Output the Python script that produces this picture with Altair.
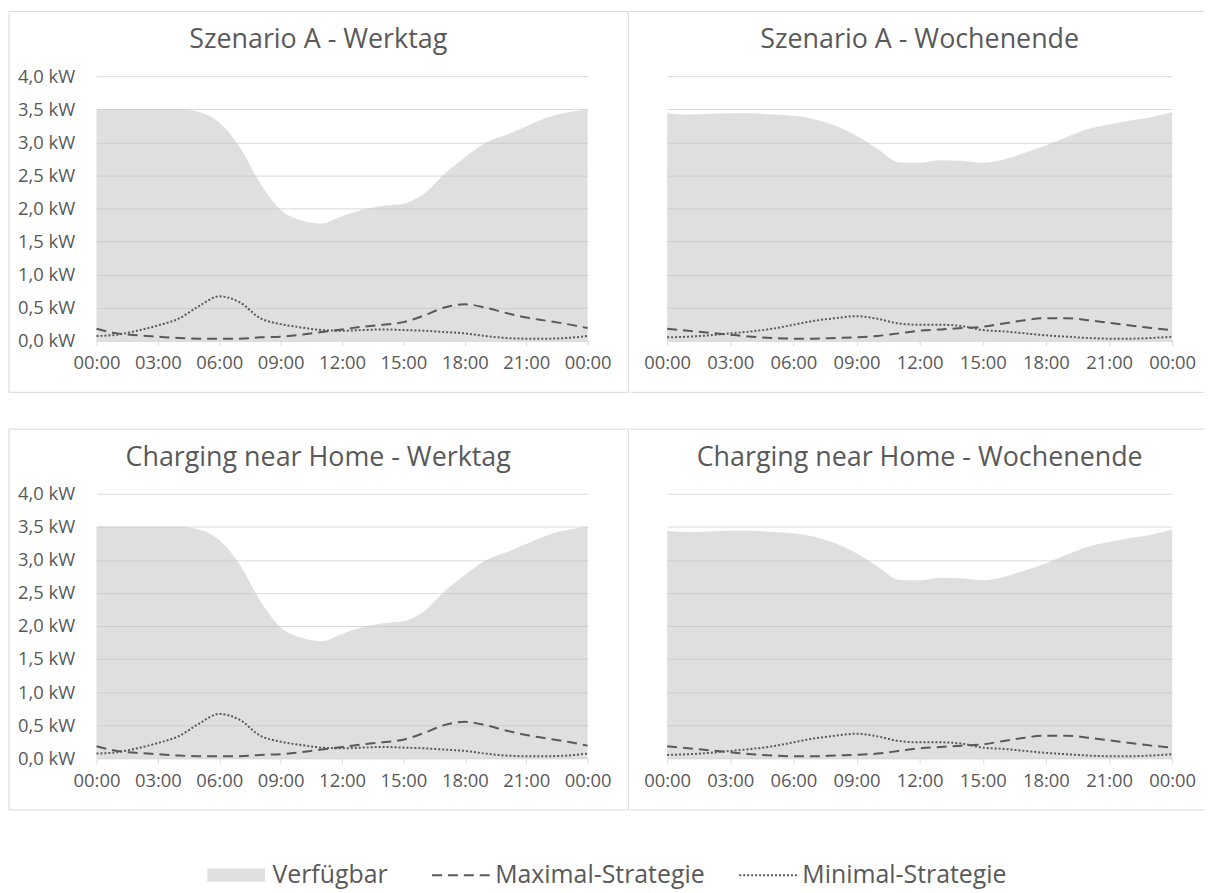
import json
import altair as alt
import pandas as pd

# ---------------- data ----------------
hours = list(range(25))

# Werktag (weekday)
werktag_verfuegbar = [3.50, 3.50, 3.50, 3.50, 3.50, 3.46, 3.30, 2.93, 2.38, 1.98, 1.82, 1.77, 1.88,
                      1.98, 2.04, 2.07, 2.22, 2.52, 2.77, 2.99, 3.11, 3.24, 3.37, 3.45, 3.50]
werktag_maximal = [0.18, 0.11, 0.08, 0.06, 0.04, 0.03, 0.03, 0.03, 0.05, 0.06, 0.09, 0.13, 0.17,
                   0.21, 0.24, 0.28, 0.38, 0.50, 0.55, 0.50, 0.42, 0.35, 0.30, 0.25, 0.19]
werktag_minimal = [0.07, 0.09, 0.15, 0.23, 0.33, 0.52, 0.67, 0.58, 0.34, 0.25, 0.20, 0.16, 0.15,
                   0.16, 0.17, 0.16, 0.15, 0.13, 0.11, 0.07, 0.04, 0.03, 0.03, 0.04, 0.07]

# Wochenende (weekend)
wochenende_verfuegbar = [3.44, 3.42, 3.43, 3.44, 3.44, 3.42, 3.40, 3.35, 3.25, 3.10, 2.90, 2.70, 2.69,
                         2.73, 2.72, 2.69, 2.74, 2.84, 2.95, 3.08, 3.20, 3.27, 3.33, 3.38, 3.46]
wochenende_maximal = [0.18, 0.15, 0.12, 0.09, 0.06, 0.04, 0.03, 0.03, 0.04, 0.05, 0.07, 0.11, 0.15,
                      0.17, 0.19, 0.21, 0.26, 0.31, 0.34, 0.34, 0.31, 0.27, 0.23, 0.19, 0.16]
wochenende_minimal = [0.05, 0.06, 0.08, 0.11, 0.14, 0.18, 0.24, 0.30, 0.34, 0.37, 0.33, 0.26, 0.24,
                      0.24, 0.22, 0.16, 0.14, 0.11, 0.08, 0.06, 0.04, 0.03, 0.03, 0.04, 0.06]

panel_titles = ["Szenario A - Werktag", "Szenario A - Wochenende",
                "Charging near Home - Werktag", "Charging near Home  - Wochenende"]
series_names = ["Verfügbar", "Maximal-Strategie", "Minimal-Strategie"]

x_tick_values = [0, 3, 6, 9, 12, 15, 18, 21, 24]
x_tick_labels = ["00:00", "03:00", "06:00", "09:00", "12:00", "15:00", "18:00", "21:00", "00:00"]
y_tick_values = [0, 0.5, 1.0, 1.5, 2.0, 2.5, 3.0, 3.5, 4.0]
y_tick_labels = ["0,0 kW", "0,5 kW", "1,0 kW", "1,5 kW", "2,0 kW", "2,5 kW", "3,0 kW", "3,5 kW", "4,0 kW"]

# ---------------- style ----------------
FONT = "Open Sans"
TEXT = "#595959"
GRID = "#d9d9d9"
LINE = "#595959"
H = 266

x_label_expr = f"{json.dumps(x_tick_labels)}[round(datum.value / 3)]"
y_label_expr = f"{json.dumps(y_tick_labels)}[round(datum.value * 2)]"

fill_legend = alt.Legend(orient="none", legendX=128, legendY=791, direction="horizontal", title=None,
                         symbolType="M-4,-0.92H4V0.92H-4Z", symbolSize=210, symbolStrokeWidth=0,
                         symbolOpacity=0.5, labelOffset=24, labelFontSize=25, labelLimit=400,
                         labelFont=FONT, labelColor=TEXT, padding=0)
dash_legend = alt.Legend(orient="none", legendX=354, legendY=791, direction="horizontal", title=None,
                         symbolType="M-4,0H4", symbolSize=210, symbolStrokeColor=LINE,
                         symbolStrokeWidth=2, labelOffset=22, columnPadding=30, labelFontSize=25,
                         labelLimit=400, labelFont=FONT, labelColor=TEXT, padding=0)


def panel(title, avail, maxi, mini, left):
    w = 494 if left else 508
    df = pd.DataFrame({"Stunde": hours, series_names[0]: avail,
                       series_names[1]: maxi, series_names[2]: mini})
    x = alt.X("Stunde:Q", scale=alt.Scale(domain=[0, 24], nice=False, zero=False),
              axis=alt.Axis(values=x_tick_values, labelExpr=x_label_expr, title=None, grid=False,
                            domainColor=GRID, tickColor=GRID, tickSize=5, labelPadding=8,
                            labelFontSize=18.5, labelColor=TEXT, labelFont=FONT, labelFlush=False,
                            labelOverlap=False, zindex=1))
    yscale = alt.Scale(domain=[0, 4], nice=False)
    yaxis = alt.Axis(values=y_tick_values, labelExpr=y_label_expr, title=None, grid=True,
                     gridColor=GRID, domain=False, ticks=False, labels=left, labelPadding=22,
                     labelFontSize=18.5, labelColor=TEXT, labelFont=FONT, labelOverlap=False)
    base = alt.Chart(df)
    area = base.transform_fold([series_names[0]], as_=["Reihe", "Wert"]).mark_area(
        interpolate="monotone", opacity=0.5).encode(
        x=x, y=alt.Y("Wert:Q", scale=yscale, axis=yaxis),
        fill=alt.Fill("Reihe:N", scale=alt.Scale(domain=[series_names[0]], range=["#bfbfbf"]),
                      legend=fill_legend))
    lines = base.transform_fold(series_names[1:], as_=["Reihe", "Wert"]).mark_line(
        interpolate="monotone", color=LINE, strokeWidth=2).encode(
        x=x, y=alt.Y("Wert:Q", scale=yscale, axis=yaxis),
        strokeDash=alt.StrokeDash("Reihe:N", scale=alt.Scale(domain=series_names[1:],
                                                             range=[[10, 6], [2, 2]]),
                                  legend=dash_legend))
    tdf = pd.DataFrame({"Titel": [title]})
    title_mark = alt.Chart(tdf).mark_text(font=FONT, fontSize=27, color=TEXT, align="center",
                                          baseline="alphabetic").encode(
        text="Titel:N", x=alt.value(w / 2 - (24 if left else 0)), y=alt.value(-28))
    if left:
        frame = [alt.Chart(tdf).mark_rect(fillOpacity=0, stroke=GRID, strokeWidth=1).encode(
            x=alt.value(-88), x2=alt.value(w + 41), y=alt.value(-65), y2=alt.value(H + 52))]
    else:
        frame = [alt.Chart(tdf).mark_rule(color=GRID, strokeWidth=1).encode(
            x=alt.value(-37), x2=alt.value(w + 32), y=alt.value(yy)) for yy in (-65, H + 52)]
    return alt.layer(*frame, area, lines, title_mark).properties(width=w, height=H)


top = alt.hconcat(
    panel(panel_titles[0], werktag_verfuegbar, werktag_maximal, werktag_minimal, True),
    panel(panel_titles[1], wochenende_verfuegbar, wochenende_maximal, wochenende_minimal, False),
    spacing=0).resolve_scale(fill="shared", strokeDash="shared")
bottom = alt.hconcat(
    panel(panel_titles[2], werktag_verfuegbar, werktag_maximal, werktag_minimal, True),
    panel(panel_titles[3], wochenende_verfuegbar, wochenende_maximal, wochenende_minimal, False),
    spacing=0).resolve_scale(fill="shared", strokeDash="shared")

chart = alt.vconcat(top, bottom, spacing=35).resolve_scale(
    fill="shared", strokeDash="shared").properties(padding=0).configure_view(strokeWidth=0)

chart.save("out.html", embed_options={"renderer": "svg", "actions": False})
